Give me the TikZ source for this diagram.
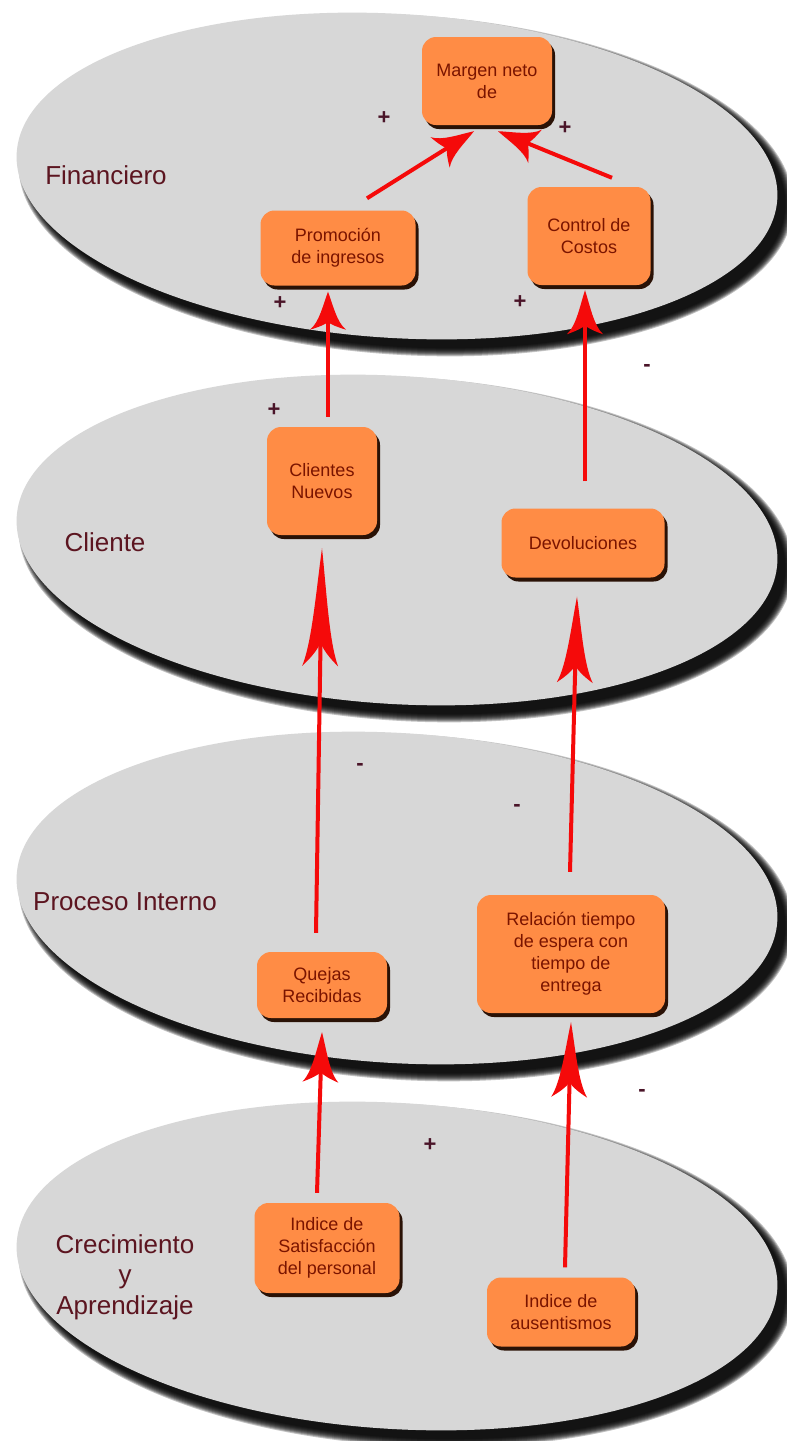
\documentclass[tikz,border=0pt]{standalone}
\usepackage{fontspec}
\setmainfont{Liberation Sans}
\usetikzlibrary{arrows.meta,shadows,calc}
\definecolor{ellgray}{HTML}{D7D7D7}
\definecolor{boxorange}{HTML}{FF8C45}
\definecolor{boxtext}{HTML}{7A1400}
\definecolor{lbltext}{HTML}{5C1520}
\definecolor{signtext}{HTML}{4A1428}
\definecolor{arrred}{HTML}{F50A0A}
\definecolor{bxshadow}{HTML}{2A1206}
\newcommand\bxfont{\fontsize{18}{22}\selectfont}
\newcommand\lblfont{\fontsize{26}{30.5}\selectfont}
\newcommand\sgnfont{\fontsize{22}{22}\selectfont\bfseries}
\pgfdeclarearrow{
  name = Spike,
  defaults = { length = 40pt, width = 34pt, inset = 12pt },
  setup code = {
    \pgfarrowssettipend{0pt}
    \dimen0=\pgfarrowlength
    \advance\dimen0 by -\pgfarrowinset
    \advance\dimen0 by -2pt
    \pgfarrowssetlineend{-\dimen0}
    \pgfarrowssetbackend{-\pgfarrowlength}
    \pgfarrowssetvisualbackend{-\pgfarrowlength}
    \pgfarrowshullpoint{0pt}{0pt}
    \pgfarrowshullpoint{-\pgfarrowlength}{.5\pgfarrowwidth}
    \pgfarrowshullpoint{-\pgfarrowlength}{-.5\pgfarrowwidth}
    \pgfarrowssavethe\pgfarrowlength
    \pgfarrowssavethe\pgfarrowwidth
    \pgfarrowssavethe\pgfarrowinset
  },
  drawing code = {
    \pgfpathmoveto{\pgfpoint{0pt}{0pt}}
    \pgfpathcurveto{\pgfpoint{-.35*\pgfarrowlength}{.14*\pgfarrowwidth}}
                   {\pgfpoint{-.80*\pgfarrowlength}{.24*\pgfarrowwidth}}
                   {\pgfpoint{-\pgfarrowlength}{.5*\pgfarrowwidth}}
    \pgfpathquadraticcurveto{\pgfpoint{-\pgfarrowlength+.55*\pgfarrowinset}{.12*\pgfarrowwidth}}
                   {\pgfpoint{-\pgfarrowlength+\pgfarrowinset}{0pt}}
    \pgfpathquadraticcurveto{\pgfpoint{-\pgfarrowlength+.55*\pgfarrowinset}{-.12*\pgfarrowwidth}}
                   {\pgfpoint{-\pgfarrowlength}{-.5*\pgfarrowwidth}}
    \pgfpathcurveto{\pgfpoint{-.80*\pgfarrowlength}{-.24*\pgfarrowwidth}}
                   {\pgfpoint{-.35*\pgfarrowlength}{-.14*\pgfarrowwidth}}
                   {\pgfpoint{0pt}{0pt}}
    \pgfpathclose
    \pgfusepathqfill
  },
  parameters = { \the\pgfarrowlength,\the\pgfarrowwidth,\the\pgfarrowinset },
}
\tikzset{
  layer/.style={fill=ellgray},
  box/.style={rounded corners=14pt, fill=boxorange, text=boxtext, font=\bxfont,
    align=center, inner sep=0pt,
    drop shadow={shadow xshift=3pt, shadow yshift=-4pt, fill=bxshadow, opacity=1}},
  lbl/.style={text=lbltext, font=\lblfont, align=center, inner sep=0pt},
  sgn/.style={text=signtext, font=\sgnfont, inner sep=0pt},
  arr/.style={draw=arrred, fill=arrred, line width=4pt, -{Spike[length=#1, width=36pt, inset=0.2*#1]}},
}
\newcommand\layerell[3]{%
  \foreach \k in {8,7,...,0}{
    \fill[black, opacity=0.24, rotate around={-3.5:(#1+9,#2+9)}] (#1+9,#2+9) ellipse ({380+\k} and {#3+\k});
  }
  \fill[layer, rotate around={-3.5:(#1,#2)}] (#1,#2) ellipse (381 and #3);
}
\begin{document}
\begin{tikzpicture}[x=1pt, y=-1pt]
\fill[white] (0,0) rectangle (787,1441);
\useasboundingbox (0,0) rectangle (787,1441);

% layers
\layerell{397}{176}{162}
\layerell{397}{540}{164}
\layerell{397}{898}{165}
\layerell{397}{1266}{163}

% layer labels
\node[lbl] (lfin) at (106,175) {Financiero};
\node[lbl] (lcli) at (105,542) {Cliente};
\node[lbl] (lpro) at (125,902) {Proceso Interno};
\node[lbl] (lcre) at (125,1277) {Crecimiento\\y\\Aprendizaje};

% boxes
\node[box, minimum width=130pt, minimum height=88pt] (margen) at (487,81) {Margen neto\\de};
\node[box, minimum width=155pt, minimum height=75pt] (prom) at (338,248) {Promoción\\de ingresos};
\node[box, minimum width=123pt, minimum height=98pt] (ctrl) at (589,236) {Control de\\Costos};
\node[box, minimum width=110pt, minimum height=108pt] (cli) at (322,481) {Clientes\\Nuevos};
\node[box, minimum width=163pt, minimum height=69pt] (dev) at (583,543) {Devoluciones};
\node[box, minimum width=130pt, minimum height=66pt] (quejas) at (322,985) {Quejas\\Recibidas};
\node[box, minimum width=188pt, minimum height=118pt] (rel) at (571,954) {Relación tiempo\\de espera con\\tiempo de\\entrega};
\node[box, minimum width=145pt, minimum height=90pt] (sat) at (327,1248) {Indice de\\Satisfacción\\del personal};
\node[box, minimum width=148pt, minimum height=69pt] (aus) at (561,1312) {Indice de\\ausentismos};

% arrows
\draw[arr=40pt] ($(prom.north)+(29,-12)$) -- ($(margen.south)+(-13,6)$);
\draw[arr=40pt] ($(ctrl.north)+(23,-9)$) -- ($(margen.south)+(11,6)$);
\draw[arr=38pt] ($(cli.north)+(6,-10)$) -- ($(prom.south)+(-10,6)$);
\draw[arr=44pt] ($(dev.north)+(2,-27)$) -- ($(ctrl.south)+(-4,5)$);
\draw[arr=118pt] ($(quejas.north)+(-6,-19)$) -- ($(cli.south)+(0,13)$);
\draw[arr=86pt] ($(rel.north)+(-1,-23)$) -- ($(dev.south)+(-6,19)$);
\draw[arr=50pt] ($(sat.north)+(-10,-10)$) -- ($(quejas.south)+(0,14)$);
\draw[arr=75pt] ($(aus.north)+(4,-10)$) -- ($(rel.south)+(0,9)$);

% signs
\node[sgn] (p1) at (384,118) {+};
\node[sgn] (p2) at (565,128) {+};
\node[sgn] (p3) at (280,303) {+};
\node[sgn] (p4) at (520,302) {+};
\node[sgn] (p5) at (274,410) {+};
\node[sgn] (p6) at (430,1145) {+};
\node[sgn] (m1) at (647,368) {-};
\node[sgn] (m2) at (360,767) {-};
\node[sgn] (m3) at (517,808) {-};
\node[sgn] (m4) at (642,1093) {-};
\end{tikzpicture}
\end{document}
